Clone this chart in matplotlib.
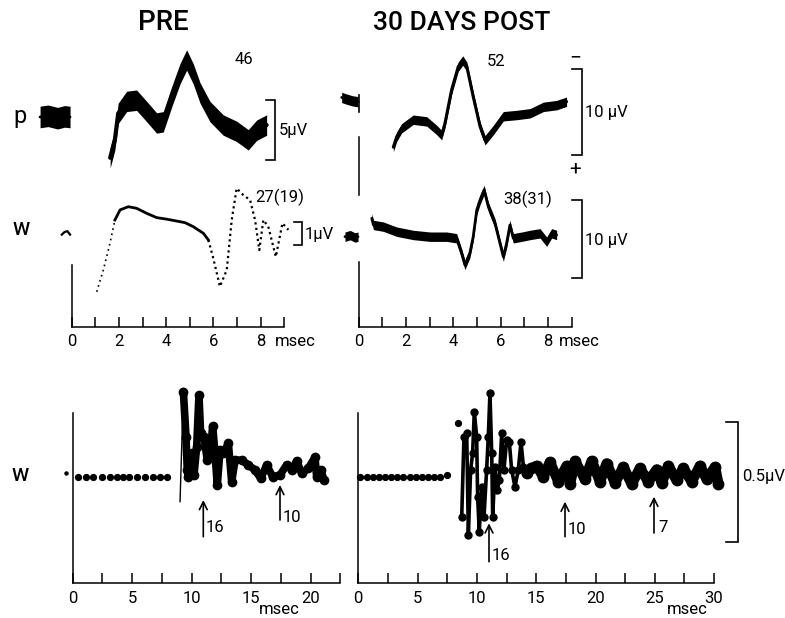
import matplotlib
matplotlib.use('Agg')
import matplotlib.pyplot as plt
from matplotlib import font_manager as fm

# ---------------- data (msec, microvolts) ----------------
# P wave, PRE
ppre_base_t = [-1.34, -1.0, -0.6, -0.3, -0.07]
ppre_base_a = [0.0, 0.1, -0.1, 0.05, 0.0]
ppre_t = [1.63, 1.83, 1.97, 2.33, 2.75, 3.18, 3.6, 3.88, 4.24, 4.59, 4.87, 5.15, 5.44, 5.86, 6.42, 6.99, 7.48, 7.84, 8.26]
ppre_a = [-3.4, -1.9, 0.3, 1.3, 1.4, 0.45, -0.5, -0.4, 1.7, 3.6, 4.75, 3.6, 2.0, 0.45, -0.67, -1.2, -1.9, -1.1, -0.67]

# W wave, PRE
wpre_base_t = [-0.42, -0.3, -0.18, -0.07]
wpre_base_a = [-0.05, 0.05, 0.08, -0.05]
wpre_t = [1.06, 1.34, 1.62, 1.83, 2.05, 2.4, 2.75, 3.18, 3.6, 4.03, 4.45, 4.8, 5.15, 5.58, 5.79, 6.0, 6.28,
          6.57, 6.78, 6.99, 7.27, 7.56, 7.77, 7.95, 8.12, 8.33, 8.65, 8.93, 9.18]
wpre_a = [-2.2, -1.38, -0.38, 0.5, 0.88, 1.0, 0.94, 0.75, 0.59, 0.53, 0.46, 0.4, 0.25, 0.0, -0.25, -0.94, -2.0,
          -1.38, 0.5, 1.69, 1.44, 1.25, 0.5, -0.63, 0.5, 0.25, -0.88, 0.38, 0.13]

# P wave, 30 DAYS POST
ppost_base_t = [-0.71, -0.5, -0.25, -0.02]
ppost_base_a = [0.3, 0.1, -0.1, -0.2]
ppost_t = [1.47, 1.61, 1.82, 2.31, 2.88, 3.3, 3.51, 3.65, 3.93, 4.21, 4.4, 4.57, 4.84, 5.13, 5.34, 5.69, 6.11,
           6.68, 7.24, 7.8, 8.36, 8.78]
ppost_a = [-5.5, -4.3, -3.3, -2.3, -2.5, -3.5, -4.1, -2.7, 1.2, 3.9, 4.6, 3.9, 0.4, -3.1, -4.7, -3.5, -1.9,
           -1.75, -1.55, -0.8, -0.6, -0.2]

# W wave, 30 DAYS POST
wpost_base_t = [-0.57, -0.35, -0.15, -0.02]
wpost_base_a = [0.0, 0.2, -0.1, 0.0]
wpost_t = [0.56, 0.63, 1.05, 1.61, 2.31, 3.02, 3.72, 4.14, 4.35, 4.49, 4.7, 4.84, 4.99, 5.13, 5.3, 5.48, 5.76,
           5.97, 6.11, 6.25, 6.39, 6.53, 6.89, 7.24, 7.66, 7.94, 8.15, 8.36]
wpost_a = [2.35, 1.5, 1.28, 0.64, 0.22, 0.0, 0.0, -0.2, -2.1, -3.6, -2.1, 0.0, 3.4, 4.7, 5.96, 3.8, 1.7,
           -0.85, -2.55, -0.85, 1.5, -0.2, 0.0, 0.22, 0.43, -0.64, 0.43, 0.22]

# W wave, long sweep, PRE
bpre_dots_t = [0.47, 1.12, 1.73, 2.43, 3.13, 3.69, 4.2, 4.76, 5.43, 6.08, 6.72, 7.34, 7.95]
bpre_dots_a = [0.0] * 13
bpre_lone_t = [-0.56]
bpre_lone_a = [0.017]
bpre_spike_t = [9.02, 9.3]
bpre_spike_a = [-0.104, 0.355]
bpre_t = [9.3, 9.52, 9.63, 9.72, 10.0, 10.19, 10.42, 10.61, 10.75, 11.03, 11.31, 11.54, 11.76, 11.96, 12.15,
          12.38, 12.66, 13.08, 13.36, 13.64, 14.2, 14.76, 15.32, 15.8, 16.3, 16.8, 17.42, 17.98, 18.4, 18.82,
          19.24, 19.8, 20.36, 20.5, 20.84, 21.12]
bpre_a = [0.355, 0.167, 0.028, -0.001, 0.097, 0.007, 0.125, 0.34, 0.181, 0.167, 0.069, 0.083, 0.21, 0.097,
          -0.035, 0.111, 0.097, 0.139, -0.021, 0.069, 0.069, 0.049, 0.028, -0.007, 0.049, 0.0, 0.007, 0.049,
          0.028, 0.066, 0.014, 0.035, 0.081, 0.0, 0.028, -0.014]

# W wave, long sweep, 30 DAYS POST
bpost_dots_t = [0.14, 0.71, 1.21, 1.75, 2.25, 2.76, 3.29, 3.8, 4.33, 4.86, 5.37, 5.9, 6.41, 6.89, 7.45]
bpost_dots_a = [0.0] * 14 + [0.006]
bpost_lone_t = [8.43]
bpost_lone_a = [0.225]
bpost_t = [8.72, 8.91, 9.14, 9.28, 9.47, 9.64, 9.78, 9.98, 10.06, 10.2, 10.4, 10.6, 10.82, 10.96, 11.1, 11.25,
           11.33, 11.53, 11.72, 11.89, 12.09, 12.28, 12.51, 12.73, 12.93, 13.21, 13.49, 13.72, 13.92, 14.2,
           14.6, 15.04, 15.6, 16.16, 16.87, 17.57, 17.85, 18.27, 19.11, 19.68, 20.38, 20.94, 21.64, 22.35,
           23.05, 23.75, 24.45, 25.16, 25.58, 26.14, 26.84, 27.41, 28.11, 28.81, 29.37, 30.08, 30.36]
bpost_a = [-0.167, 0.167, 0.181, -0.243, 0.028, 0.097, 0.271, 0.167, -0.083, -0.229, -0.042, -0.167, 0.028,
           0.167, 0.347, 0.097, -0.167, 0.042, -0.055, -0.014, 0.181, 0.028, 0.153, 0.146, 0.028, -0.042,
           0.028, 0.146, 0.042, 0.014, 0.035, 0.045, 0.0, 0.06, -0.02, 0.045, -0.03, 0.065, -0.01, 0.065,
           -0.02, 0.055, -0.025, 0.04, -0.03, 0.035, -0.02, 0.03, -0.025, 0.045, -0.015, 0.035, -0.02, 0.045,
           -0.01, 0.04, -0.03]

# noise half-widths of the oscilloscope bands (microvolts)
ppre_noise = 0.85
ppost_noise = 0.55
wpost_noise = 0.6

# tick labels
top_ticks = [0, 1, 2, 3, 4, 5, 6, 7, 8, 9]
top_labels = ['0', '', '2', '', '4', '', '6', '', '8', '']
bl_ticks = [0, 2.5, 5, 7.5, 10, 12.5, 15, 17.5, 20, 22.5]
bl_labels = ['0', '', '5', '', '10', '', '15', '', '20', '']
br_ticks = [0, 2.5, 5, 7.5, 10, 12.5, 15, 17.5, 20, 22.5, 25, 27.5, 30]
br_labels = ['0', '', '5', '', '10', '', '15', '', '20', '', '25', '', '30']

# ---------------- fonts ----------------
names = {f.name for f in fm.fontManager.ttflist}
FONT = 'Roboto' if 'Roboto' in names else 'DejaVu Sans'
TS, LS, TT = 12, 12, 19
plt.rcParams['font.family'] = [FONT, 'DejaVu Sans']

# ---------------- figure ----------------
W, H = 785, 618
fig = plt.figure(figsize=(W / 100, H / 100), dpi=100)
fig.patch.set_facecolor('white')


def px_axes(box, x0px, xs, y0px, ys, z=1):
    l, t, r, b = box
    ax = fig.add_axes([l / W, 1 - b / H, (r - l) / W, (b - t) / H], zorder=z)
    ax.set_xlim((l - x0px) / xs, (r - x0px) / xs)
    ax.set_ylim((y0px - b) / ys, (y0px - t) / ys)
    ax.patch.set_alpha(0)
    for s in ax.spines.values():
        s.set_visible(False)
    ax.set_xticks([])
    ax.set_yticks([])
    ax._pxmap = (y0px, ys)
    return ax


def time_axis(ax, ticks, labels, xmax, left_top_px):
    y0px, ys = ax._pxmap
    ax.spines['bottom'].set_visible(True)
    ax.spines['bottom'].set_bounds(0, xmax)
    ax.spines['bottom'].set_linewidth(1.1)
    ax.spines['left'].set_visible(True)
    ax.spines['left'].set_position(('data', 0))
    ax.spines['left'].set_bounds(ax.get_ylim()[0], (y0px - left_top_px) / ys)
    ax.spines['left'].set_linewidth(1.1)
    ax.set_xticks(ticks)
    ax.set_xticklabels(labels)
    ax.tick_params(axis='x', direction='in', length=7.5, width=1.1, pad=5.5, labelsize=TS)


def band(ax, t, a, hw, lw):
    lo = [v - hw for v in a]
    hi = [v + hw for v in a]
    ax.fill_between(t, lo, hi, color='black', lw=0, clip_on=False)
    ax.plot(t, a, color='black', lw=lw, solid_capstyle='round', clip_on=False)


# top-left column
axPpre = px_axes((30, 35, 310, 200), 71.7, 23.6, 117, 12.0)
axWpre = px_axes((30, 150, 310, 326.7), 71.7, 23.6, 233.3, 26.6)
# top-right column
axPpost = px_axes((320, 35, 600, 200), 358.5, 23.7, 100, 8.57)
axWpost = px_axes((320, 150, 600, 326.7), 358.5, 23.7, 236.7, 7.84)
# bottom
axBpre = px_axes((40, 380, 360, 583.3), 72.7, 11.9, 476.7, 240.0)
axBpost = px_axes((345, 380, 740, 583.3), 358.3, 11.86, 476.7, 240.0)

time_axis(axWpre, top_ticks, top_labels, 9, 265)
time_axis(axWpost, top_ticks, top_labels, 9, 262)
time_axis(axBpre, bl_ticks, bl_labels, 22.5, 413)
time_axis(axBpost, br_ticks, br_labels, 30, 413)

# P traces
band(axPpre, ppre_base_t, ppre_base_a, 0.9, 2)
band(axPpre, ppre_t, ppre_a, ppre_noise, 3)
band(axPpost, ppost_base_t, ppost_base_a, 0.6, 2)
band(axPpost, ppost_t, ppost_a, ppost_noise, 2.2)

# W traces (short sweep)
axWpre.plot(wpre_base_t, wpre_base_a, color='black', lw=1.6, clip_on=False)
axWpre.plot(wpre_t[:4], wpre_a[:4], color='black', lw=1.2, ls=(0, (1, 2.2)))
axWpre.plot(wpre_t[3:15], wpre_a[3:15], color='black', lw=2.0)
axWpre.plot(wpre_t[14:], wpre_a[14:], color='black', lw=1.6, ls=(0, (1, 1.5)))
band(axWpost, wpost_base_t, wpost_base_a, 0.6, 2)
band(axWpost, wpost_t, wpost_a, wpost_noise, 2.0)

# long sweeps
for ax, dt, da in ((axBpre, bpre_dots_t, bpre_dots_a), (axBpost, bpost_dots_t, bpost_dots_a)):
    ax.plot(dt, da, 'o', color='black', ms=4.2, clip_on=False)
axBpre.plot(bpre_lone_t, bpre_lone_a, 'o', color='black', ms=2.2, clip_on=False)
axBpre.plot(bpre_spike_t, bpre_spike_a, color='black', lw=1.0)
axBpre.plot(bpre_t, bpre_a, color='black', lw=5.5, marker='o', ms=6, solid_joinstyle='round',
            solid_capstyle='round')

axBpost.plot(bpost_lone_t, bpost_lone_a, 'o', color='black', ms=4.2)
n_early = 30
axBpost.plot(bpost_t[:n_early], bpost_a[:n_early], color='black', lw=2.6, marker='o', ms=5,
             solid_joinstyle='round')
axBpost.plot(bpost_t[n_early - 1:], bpost_a[n_early - 1:], color='black', lw=7.5, marker='o', ms=7.5,
             solid_joinstyle='round', solid_capstyle='round')

# ---------------- overlay: labels, scale bars, arrows ----------------
ov = fig.add_axes([0, 0, 1, 1], zorder=10)
ov.set_xlim(0, W)
ov.set_ylim(H, 0)
ov.axis('off')


def bracket(x, y0, y1, arm):
    ov.plot([x - arm, x, x, x - arm], [y0, y0, y1, y1], color='black', lw=1.2,
            solid_joinstyle='miter')


bracket(275, 100, 160, 9)
bracket(301.7, 221.7, 245, 8)
bracket(581.7, 69.3, 155, 10)
bracket(581.7, 200, 278.3, 10)
bracket(738.3, 421.7, 541.7, 12)

# extra pieces of the post column's left line
ov.plot([358.5, 358.5], [95, 112], color='black', lw=1.2)
ov.plot([358.5, 358.5], [137, 195], color='black', lw=1.1)

ov.text(163.5, 23, 'PRE', fontsize=TT + 1, ha='center', va='center', fontweight='medium')
ov.text(461.5, 23, '30 DAYS POST', fontsize=TT, ha='center', va='center', fontweight='medium')
ov.text(20, 117, 'p', fontsize=LS + 5, ha='center', va='center')
ov.text(21, 230, 'W', fontsize=LS + 2, ha='center', va='center', fontweight='medium')
ov.text(20, 476, 'W', fontsize=LS + 2, ha='center', va='center', fontweight='medium')

ov.text(244, 59, '46', fontsize=LS, ha='center', va='center')
ov.text(496, 62, '52', fontsize=LS, ha='center', va='center')
ov.text(280, 197, '27(19)', fontsize=LS, ha='center', va='center')
ov.text(528, 199, '38(31)', fontsize=LS, ha='center', va='center')

ov.text(279, 130, '5µV', fontsize=LS, ha='left', va='center')
ov.text(305, 234, '1µV', fontsize=LS, ha='left', va='center')
ov.text(585, 112, '10 µV', fontsize=LS, ha='left', va='center')
ov.text(585, 240, '10 µV', fontsize=LS, ha='left', va='center')
ov.text(742, 477, '0.5µV', fontsize=LS, ha='left', va='center')
ov.text(575.5, 58, '\u2212', fontsize=LS + 3, ha='center', va='center')
ov.text(575.5, 169, '+', fontsize=LS + 3, ha='center', va='center')

ov.text(275, 341, 'msec', fontsize=TS, ha='left', va='center')
ov.text(559, 341, 'msec', fontsize=TS, ha='left', va='center')
ov.text(279, 610, 'msec', fontsize=TS, ha='center', va='center')
ov.text(687, 610, 'msec', fontsize=TS, ha='center', va='center')


def arrow(x, ybot, ytop, label, lx, ly):
    ov.annotate('', xy=(x, ytop), xytext=(x, ybot),
                arrowprops=dict(arrowstyle='->', lw=1.2, color='black', mutation_scale=14,
                                shrinkA=0, shrinkB=0))
    ov.text(lx, ly, label, fontsize=LS, ha='left', va='center')


arrow(203.3, 536.7, 500, '16', 206, 528)
arrow(280, 520, 485, '10', 283, 517)
arrow(489, 561.7, 523.3, '16', 492, 555)
arrow(565, 536.7, 501.7, '10', 568, 530)
arrow(654, 533, 496.7, '7', 658, 527)

fig.savefig('out.png', dpi=100, facecolor='white')
